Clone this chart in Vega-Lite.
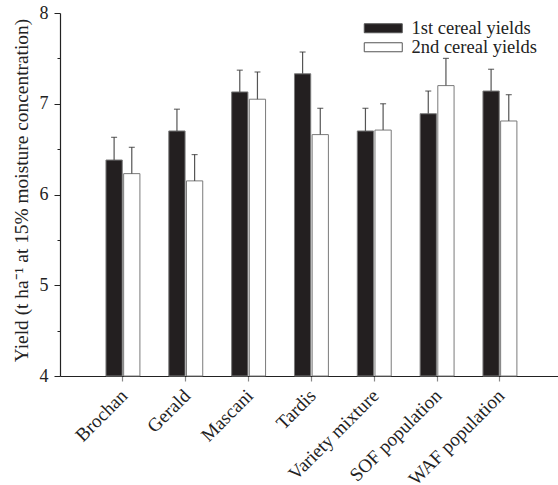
{
  "$schema": "https://vega.github.io/schema/vega-lite/v6.json",
  "width": 498,
  "height": 363,
  "autosize": {"type": "none"},
  "padding": {"left": 60, "top": 13, "right": 0, "bottom": 109},
  "background": "white",
  "config": {"font": "Liberation Serif", "view": {"stroke": null}},
  "data": {"values": [
    {"variety": "Brochan", "series": "1st cereal yields", "yield": 6.38, "upper": 6.63},
    {"variety": "Brochan", "series": "2nd cereal yields", "yield": 6.23, "upper": 6.52},
    {"variety": "Gerald", "series": "1st cereal yields", "yield": 6.70, "upper": 6.94},
    {"variety": "Gerald", "series": "2nd cereal yields", "yield": 6.15, "upper": 6.44},
    {"variety": "Mascani", "series": "1st cereal yields", "yield": 7.13, "upper": 7.37},
    {"variety": "Mascani", "series": "2nd cereal yields", "yield": 7.05, "upper": 7.35},
    {"variety": "Tardis", "series": "1st cereal yields", "yield": 7.33, "upper": 7.57},
    {"variety": "Tardis", "series": "2nd cereal yields", "yield": 6.66, "upper": 6.95},
    {"variety": "Variety mixture", "series": "1st cereal yields", "yield": 6.70, "upper": 6.95},
    {"variety": "Variety mixture", "series": "2nd cereal yields", "yield": 6.71, "upper": 7.00},
    {"variety": "SOF population", "series": "1st cereal yields", "yield": 6.89, "upper": 7.14},
    {"variety": "SOF population", "series": "2nd cereal yields", "yield": 7.20, "upper": 7.50},
    {"variety": "WAF population", "series": "1st cereal yields", "yield": 7.14, "upper": 7.38},
    {"variety": "WAF population", "series": "2nd cereal yields", "yield": 6.81, "upper": 7.10}
  ]},
  "encoding": {
    "x": {
      "field": "variety", "type": "nominal", "sort": null,
      "scale": {"paddingInner": 0.46, "paddingOuter": 0.693, "align": 0.528},
      "axis": {
        "title": null, "labelAngle": -45, "labelFontSize": 19, "labelColor": "#222",
        "labelOverlap": false, "labelBound": false, "labelOffset": -5,
        "domainColor": "#222", "domainWidth": 1.2, "tickColor": "#888", "tickSize": 5, "tickWidth": 1.2,
        "labelPadding": 5
      }
    },
    "xOffset": {"field": "series", "type": "nominal", "scale": {"paddingInner": 0.08, "paddingOuter": 0}}
  },
  "layer": [
    {
      "mark": {"type": "bar", "stroke": "#7a7a7a", "strokeWidth": 1},
      "encoding": {
        "y": {
          "field": "yield", "type": "quantitative",
          "scale": {"domain": [4, 8], "zero": false, "nice": false},
          "axis": {
            "title": "Yield (t ha⁻¹ at 15% moisture concentration)",
            "titleFontSize": 19.4, "titleFontWeight": "normal", "titleColor": "#222",
            "titleX": -32.5, "titleY": 177, "titleBaseline": "alphabetic",
            "values": [4, 4.5, 5, 5.5, 6, 6.5, 7, 7.5, 8],
            "labelExpr": "datum.value % 1 === 0 ? format(datum.value, 'd') : ''",
            "labelFontSize": 18, "labelColor": "#222", "labelPadding": 6,
            "tickSize": {"condition": {"test": "datum.value % 1 === 0", "value": 6}, "value": 3},
            "tickColor": "#222", "domainColor": "#222", "domainWidth": 1.2, "grid": false
          }
        },
        "y2": {"datum": 4},
        "fill": {
          "field": "series", "type": "nominal",
          "scale": {"domain": ["1st cereal yields", "2nd cereal yields"], "range": ["#231f20", "#ffffff"]},
          "legend": {
            "title": null, "orient": "none", "legendX": 314, "legendY": 6,
            "symbolType": "M-3.8,-0.9H3.8V0.9H-3.8Z", "symbolSize": 100,
            "symbolStrokeColor": "#555", "symbolStrokeWidth": 1,
            "labelOffset": 19, "labelFontSize": 18.5, "labelColor": "#222", "rowPadding": -1.5
          }
        }
      }
    },
    {
      "mark": {"type": "rule", "color": "#555", "strokeWidth": 1.2},
      "encoding": {
        "y": {"field": "yield", "type": "quantitative"},
        "y2": {"field": "upper"}
      }
    },
    {
      "mark": {"type": "tick", "color": "#333", "size": 6, "thickness": 1.2, "orient": "horizontal"},
      "encoding": {
        "y": {"field": "upper", "type": "quantitative"}
      }
    }
  ]
}
